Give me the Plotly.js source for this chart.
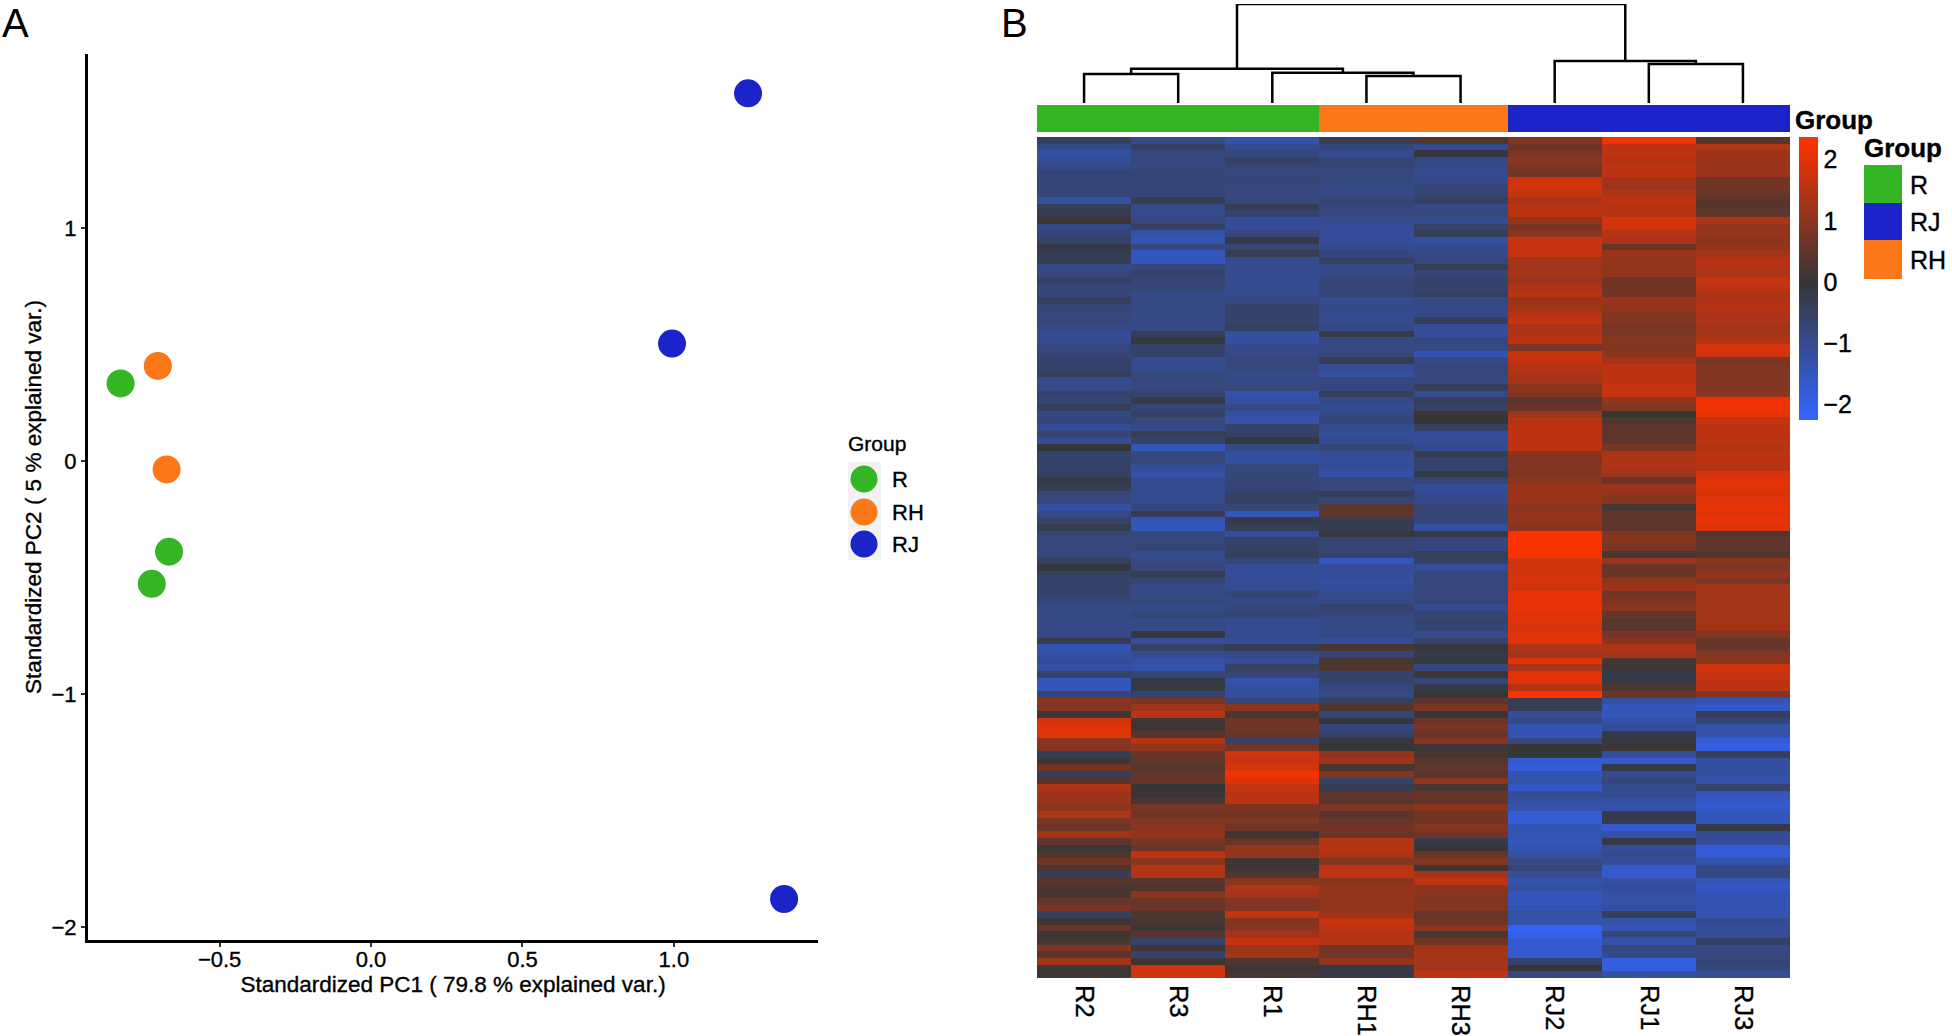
<!DOCTYPE html>
<html>
<head>
<meta charset="utf-8">
<script src="https://cdn.plot.ly/plotly-3.0.1.min.js"></script>
<style>
html,body{margin:0;padding:0;background:#fff}
svg text{stroke:#000;stroke-width:.35px}
.annotation[data-index="0"] text,.annotation[data-index="1"] text{stroke-width:0}
</style>
</head>
<body>
<div id="chart" style="width:1952px;height:1036px"></div>
<script>
// ---------- Panel A: PCA scores ----------
const groupR_pc1 = [-0.827, -0.667, -0.724];
const groupR_pc2 = [0.333, -0.389, -0.527];
const groupRH_pc1 = [-0.704, -0.675];
const groupRH_pc2 = [0.408, -0.036];
const groupRJ_pc1 = [0.994, 1.245, 1.364];
const groupRJ_pc2 = [0.504, 1.578, -1.880];

// ---------- Panel B: heatmap columns, top row first ----------
const samples = ['R2','R3','R1','RH1','RH3','RJ2','RJ1','RJ3'];
const sampleGroup = [0,0,0,1,1,2,2,2];
const R2 = [
-0.5,-0.9,-1.2,-1.1,-0.9,-0.7,-0.7,-0.7,-0.7,-1.2,-0.4,-0.3,0.1,-0.9,-0.7,-0.6,-0.2,-0.3,-0.4,-0.9,-0.8,
-0.5,-0.7,-0.7,-0.4,-0.7,-0.8,-0.8,-0.9,-1.1,-1.0,-0.8,-0.7,-0.6,-0.6,-0.4,-1.0,-0.9,-0.6,-0.7,-0.4,-0.9,
-0.7,-1.1,-0.7,-1.1,0.0,-0.6,-0.6,-0.6,-0.5,-0.2,-0.3,-0.8,-0.8,-1.2,-0.9,-0.6,-0.3,-0.7,-0.8,-0.8,-0.8,
-0.5,-0.1,-0.5,-0.6,-0.6,-0.6,-0.7,-0.9,-0.9,-0.9,-0.9,-0.9,-0.3,-1.4,-1.2,-1.1,-1.2,-0.6,-1.5,-1.5,-0.7,
1.0,0.9,0.1,1.8,2.0,2.0,1.0,0.9,-0.3,0.1,0.7,-0.3,0.4,1.4,1.2,1.2,1.0,1.4,0.8,0.7,1.3,
0.5,0.1,0.3,0.7,0.3,-0.4,0.4,0.2,0.2,0.6,0.8,-0.5,0.1,0.6,0.1,0.2,0.9,0.4,1.3,0.1,0.1];
const R3 = [
-1.0,-0.5,-0.8,-0.8,-0.8,-0.7,-0.7,-0.7,-0.7,-0.3,-0.9,-1.0,-0.8,-0.5,-1.3,-1.4,-0.8,-1.5,-1.5,-0.8,-0.6,
-0.7,-0.7,-0.9,-0.9,-0.9,-0.9,-0.9,-0.9,-0.4,-0.1,-0.6,-0.6,-1.0,-1.0,-0.8,-0.8,-0.8,-0.6,-0.2,-0.7,-0.5,
-0.8,-0.9,-0.4,-0.6,-1.5,-0.8,-0.8,-1.1,-1.3,-1.0,-1.0,-1.0,-1.0,-0.8,-0.3,-1.5,-1.5,-0.8,-0.8,-0.7,-1.0,
-0.9,-0.8,-0.3,-0.7,-0.9,-0.9,-0.8,-0.9,-0.7,-0.9,-0.9,-0.1,-1.1,-0.5,-1.0,-1.2,-1.3,-0.7,-0.2,-0.2,-0.6,
0.8,1.2,1.6,0.1,0.1,0.4,1.5,1.1,0.6,0.5,0.4,0.5,0.6,0.0,0.0,0.2,0.8,0.7,0.9,1.0,1.1,
0.8,0.6,1.6,1.0,1.5,1.5,0.4,0.3,1.0,0.6,0.6,0.3,0.2,0.1,0.4,-0.6,0.1,-0.6,0.1,1.8,1.8];
const R1 = [
-1.3,-1.0,-0.8,-0.5,-0.7,-0.8,-0.7,-0.8,-0.8,-0.8,-0.3,-0.6,-1.1,-1.1,-0.8,-0.2,-0.7,-0.3,-1.0,-1.0,-1.0,
-1.0,-1.0,-1.0,-0.8,-0.6,-0.6,-0.6,-0.5,-1.2,-1.2,-0.9,-0.9,-0.8,-0.8,-0.9,-0.9,-0.8,-1.3,-1.2,-0.9,-1.2,
-1.3,-0.6,-0.5,-0.1,-0.9,-1.2,-1.2,-0.8,-0.7,-0.7,-0.7,-0.5,-0.5,-0.7,-1.5,-0.2,-0.4,-1.1,-0.6,-0.5,-0.4,
-0.7,-1.1,-1.1,-1.1,-1.0,-0.7,-0.9,-0.8,-0.7,-1.0,-1.0,-1.0,-1.1,-0.3,-0.9,-1.1,-0.5,-0.7,-1.3,-1.2,-1.2,
-0.7,1.0,0.2,0.7,0.7,0.6,-0.6,0.7,1.8,1.7,1.9,2.2,2.0,1.7,1.5,1.6,0.8,0.7,0.9,0.7,0.1,
0.6,1.1,1.1,0.1,0.1,0.3,1.0,1.4,1.3,0.9,0.9,1.7,0.9,1.0,1.3,1.7,1.2,1.3,0.3,0.1,0.2];
const RH1 = [
-0.3,-0.8,-1.0,-0.7,-0.7,-0.8,-0.8,-0.9,-0.9,-0.7,-0.8,-0.8,-1.0,-1.1,-1.1,-1.1,-1.0,-0.8,-0.5,-0.9,-0.9,
-0.7,-0.7,-0.7,-1.0,-0.9,-1.0,-1.0,-0.9,-0.2,-0.9,-0.9,-0.8,-0.3,-1.1,-1.2,-0.8,-0.8,-0.4,-0.9,-1.0,-0.9,
-0.7,-1.0,-1.1,-1.0,-0.7,-1.1,-1.1,-1.1,-1.3,-0.8,-0.8,-0.4,-0.7,0.4,0.5,-0.3,-0.3,-0.1,-0.7,-0.7,-0.6,
-1.5,-1.1,-1.1,-1.2,-1.1,-1.0,-0.9,-0.6,-0.8,-0.9,-0.9,-0.9,-1.1,0.2,-0.7,0.2,0.3,-0.6,-0.6,-0.8,-0.9,
-0.4,0.3,-0.7,0.0,-0.8,-0.6,-0.1,0.0,1.1,1.3,0.2,0.9,-0.6,-0.3,0.5,0.4,0.8,0.4,0.6,0.7,0.6,
1.5,1.5,1.4,0.9,1.6,1.6,1.0,1.1,1.1,1.1,1.1,1.2,1.7,1.6,1.5,1.5,0.7,0.7,1.1,-0.2,-0.2];
const RH3 = [
0.3,-1.0,-0.1,-0.9,-0.9,-1.0,-0.9,-0.7,-0.7,-0.5,-0.9,-0.8,-1.0,-0.6,-0.4,-1.2,-1.0,-0.9,-0.8,-0.3,-0.7,
-0.6,-0.6,-0.5,-0.9,-0.9,-0.9,-0.4,-1.1,-1.1,-0.8,-0.9,-1.4,-0.9,-0.8,-0.8,-0.8,-0.4,-1.0,-0.4,-0.5,0.1,
0.0,-0.5,-1.1,-1.1,-1.0,-0.3,-0.6,-0.6,-0.2,-0.7,-1.1,-1.0,-0.9,-0.7,-0.7,-0.7,-1.2,-0.2,-0.8,-0.8,-0.4,
-0.5,-1.1,-0.8,-0.8,-0.8,-0.8,-0.7,-1.0,-0.7,-0.6,-0.7,-1.0,-0.6,-0.1,-0.2,-0.1,-0.8,0.1,-0.8,-0.2,0.0,
0.5,0.8,0.0,0.6,0.8,0.6,0.9,0.1,0.2,0.4,0.5,0.4,1.1,0.2,0.6,0.5,1.0,0.7,0.7,0.9,0.7,
-0.2,0.0,0.6,0.9,0.1,1.3,1.6,1.0,1.0,0.9,0.9,0.6,0.7,1.0,0.2,0.7,1.3,1.3,1.3,1.3,1.6];
const RJ2 = [
0.9,0.6,0.8,1.0,0.8,0.7,1.8,1.8,1.7,1.4,1.5,1.6,1.1,0.8,1.0,1.7,1.7,1.7,1.3,1.3,1.3,
1.2,1.4,1.5,1.2,1.3,1.5,1.7,1.4,1.4,1.6,0.8,1.7,1.7,1.5,1.4,1.3,1.0,0.9,0.4,0.6,1.2,
1.5,1.6,1.6,1.6,1.6,1.0,0.9,0.9,0.9,1.0,1.2,1.2,1.2,1.0,1.1,1.1,1.0,2.3,2.3,2.3,2.3,
1.8,1.8,1.8,1.9,1.8,2.1,2.1,2.1,2.0,2.0,1.9,2.0,2.0,1.4,1.3,2.0,1.4,2.0,2.0,1.5,2.3,
-0.3,-0.3,-1.1,-0.9,-1.4,-1.4,-0.8,0.0,-0.1,-1.7,-1.8,-1.4,-1.3,-1.6,-1.1,-1.2,-1.3,-1.8,-1.8,-1.4,-1.4,
-1.5,-1.4,-1.2,-0.9,-0.7,-1.1,-1.3,-1.2,-1.5,-1.5,-1.4,-1.2,-1.3,-2.1,-2.0,-1.7,-1.7,-1.7,-0.6,0.0,-0.8];
const RJ1 = [
2.2,1.6,1.6,1.5,1.6,1.6,1.3,1.2,1.4,1.6,1.5,1.5,1.9,1.8,1.5,1.4,0.6,1.2,1.1,1.1,1.1,
0.7,0.7,0.7,1.2,1.1,0.9,0.9,0.8,0.8,1.0,0.9,1.0,1.3,1.6,1.6,1.6,1.7,1.7,1.1,0.9,0.0,
0.3,0.5,0.5,0.5,0.8,1.4,1.4,1.4,1.2,0.6,1.2,1.1,0.9,0.2,0.5,0.5,0.5,0.9,0.9,0.8,0.2,
1.2,0.6,0.6,1.1,1.2,0.7,0.8,1.0,0.6,0.4,0.4,0.8,1.0,1.4,1.3,0.2,0.1,-0.2,-0.2,0.3,0.6,
-1.2,-1.5,-1.5,-1.3,-1.1,-0.2,-0.1,0.1,-1.1,-1.7,-0.2,-1.0,-0.8,-1.0,-1.0,-1.2,-1.3,-0.2,-0.3,-1.7,-1.3,
-0.2,-1.1,-1.0,-1.1,-1.7,-1.7,-1.2,-1.1,-1.2,-1.3,-1.2,-0.4,-1.3,-1.4,-0.8,-1.3,-0.8,-0.9,-1.9,-1.9,-1.2];
const RJ3 = [
0.4,1.5,1.2,1.2,1.2,1.2,0.7,0.7,0.6,0.4,0.4,0.5,1.4,1.1,1.1,1.0,1.1,1.3,1.5,1.5,1.4,
1.7,1.6,1.4,1.4,1.5,1.4,1.4,1.3,1.3,1.5,1.9,1.8,0.8,0.9,0.9,0.9,0.9,1.0,2.2,2.2,2.1,
1.7,1.6,1.6,1.6,1.5,1.6,1.6,1.5,1.9,2.0,2.0,1.9,2.0,2.1,2.0,2.1,2.0,0.3,0.5,0.5,0.3,
1.0,0.9,1.1,0.8,1.3,1.3,1.3,1.3,1.3,1.3,1.3,0.9,0.6,0.6,0.9,1.0,1.8,1.7,1.6,1.6,0.9,
-1.4,-1.6,-0.4,-0.7,-1.3,-1.3,-1.8,-1.9,-0.4,-1.2,-1.2,-1.2,-1.3,-0.6,-1.5,-1.6,-1.7,-1.5,-1.5,-0.2,-1.0,
-1.1,-1.8,-1.8,-1.3,-0.9,-0.8,-1.5,-1.6,-1.4,-1.4,-1.4,-1.4,-1.0,-1.1,-1.1,-0.5,-0.9,-0.8,-0.7,-0.8,-1.1];
const columns = [R2, R3, R1, RH1, RH3, RJ2, RJ1, RJ3];

// ---------- Dendrogram: merges of leaves (0-7) and earlier nodes (8+) ----------
const mergeLeft   = [0, 3, 2, 8, 6, 5, 11];
const mergeRight  = [1, 4, 9, 10, 7, 12, 13];
const mergeHeight = [29, 27, 30.3, 34.3, 39, 42, 99];

const zMin = -2.25, zMax = 2.37;
const GREEN = '#33b524', ORANGE = '#fb7718', BLUE = '#1b24c9';
const FONT = '"Liberation Sans", Arial, sans-serif';

const W = 1952, H = 1036;
const px = v => v / W;
const py = v => 1 - v / H;

// dendrogram segments
const nodeX = samples.map((_, i) => i), nodeH = samples.map(() => 0);
const dx = [], dy = [];
mergeLeft.forEach((l, i) => {
  const r = mergeRight[i], h = mergeHeight[i];
  dx.push(nodeX[l], nodeX[l], nodeX[r], nodeX[r], null);
  dy.push(nodeH[l], h, h, nodeH[r], null);
  nodeX.push((nodeX[l] + nodeX[r]) / 2);
  nodeH.push(h);
});

const rows = R2.map((_, i) => columns.map(c => c[i]));
const rowIdx = rows.map((_, i) => i);
const zeroFrac = (0 - zMin) / (zMax - zMin);

const mk = (name, x, y, color) => ({
  type: 'scatter', mode: 'markers', name, x, y, xaxis: 'x', yaxis: 'y',
  marker: {size: 28, color, line: {width: 0}}, showlegend: false, cliponaxis: false
});

const data = [
  mk('R', groupR_pc1, groupR_pc2, GREEN),
  mk('RH', groupRH_pc1, groupRH_pc2, ORANGE),
  mk('RJ', groupRJ_pc1, groupRJ_pc2, BLUE),
  {
    type: 'heatmap', x: samples, y: rowIdx, z: rows, xaxis: 'x2', yaxis: 'y2',
    zmin: zMin, zmax: zMax, zsmooth: false,
    colorscale: [[0, '#3366ff'], [zeroFrac, '#363636'], [1, '#ff3300']],
    colorbar: {
      x: px(1799), xanchor: 'left', xpad: 0, y: py(137), yanchor: 'top', ypad: 0,
      lenmode: 'pixels', len: 283, thickness: 19, thicknessmode: 'pixels',
      outlinewidth: 0, borderwidth: 0, ticks: '', tickvals: [-2, -1, 0, 1, 2],
      tickfont: {family: FONT, size: 25, color: '#000'}
    }
  },
  {
    type: 'heatmap', x: samples, y: ['Group'], z: [sampleGroup], xaxis: 'x3', yaxis: 'y3',
    zmin: 0, zmax: 2, showscale: false, hoverongaps: false, zsmooth: false,
    colorscale: [[0, GREEN], [0.333, GREEN], [0.333, ORANGE], [0.667, ORANGE], [0.667, BLUE], [1, BLUE]]
  },
  {
    type: 'scatter', mode: 'lines', x: dx, y: dy, xaxis: 'x4', yaxis: 'y4',
    line: {color: '#000', width: 2.5}, showlegend: false, connectgaps: false, hoverinfo: 'skip'
  }
];

const hidden = {visible: false, showgrid: false, zeroline: false, fixedrange: true};
const text = (t, x, y, size, bold, extra) => Object.assign({
  text: bold ? '<b>' + t + '</b>' : t, xref: 'paper', yref: 'paper',
  x: px(x), y: py(y), xanchor: 'left', yanchor: 'middle', showarrow: false,
  font: {family: FONT, size, color: '#000'}
}, extra || {});
const rect = (x0, y0, x1, y1, color, type) => ({
  type: type || 'rect', xref: 'paper', yref: 'paper',
  x0: px(x0), x1: px(x1), y0: py(y0), y1: py(y1),
  fillcolor: color, line: {width: 0}, layer: 'below'
});
const circle = (cx, cy, color) => Object.assign(rect(cx - 13.5, cy - 13.5, cx + 13.5, cy + 13.5, color, 'circle'), {layer: 'above'});

const layout = {
  width: W, height: H, margin: {l: 0, r: 0, t: 0, b: 0, pad: 0},
  paper_bgcolor: '#fff', plot_bgcolor: '#fff', showlegend: false,
  font: {family: FONT, color: '#000'},
  xaxis: {
    domain: [px(88), px(818)], range: [-0.9346, 1.476], anchor: 'y',
    showline: true, linecolor: '#000', linewidth: 3, showgrid: false, zeroline: false,
    ticks: 'outside', ticklen: 4, tickwidth: 1.5, tickcolor: '#333',
    tickvals: [-0.5, 0, 0.5, 1], ticktext: ['\u22120.5', '0.0', '0.5', '1.0'], ticklabelstandoff: -6,
    tickfont: {family: FONT, size: 22, color: '#000'},
    title: {text: 'Standardized PC1 ( 79.8 % explained var.)', font: {family: FONT, size: 22.5, color: '#000'}, standoff: 0}
  },
  yaxis: {
    domain: [py(940), py(54)], range: [-2.056, 1.747], anchor: 'x',
    showline: true, linecolor: '#000', linewidth: 3, showgrid: false, zeroline: false,
    ticks: 'outside', ticklen: 4, tickwidth: 1.5, tickcolor: '#333',
    tickvals: [-2, -1, 0, 1], ticktext: ['\u22122', '\u22121', '0', '1'],
    tickfont: {family: FONT, size: 22, color: '#000'},
    title: {text: 'Standardized PC2 ( 5 % explained var.)', font: {family: FONT, size: 22.5, color: '#000'}, standoff: 4}
  },
  xaxis2: {
    domain: [px(1037), px(1790)], anchor: 'y2', type: 'category', showgrid: false, zeroline: false,
    ticks: '', tickangle: 90, ticklabelstandoff: 6, tickfont: {family: FONT, size: 25.5, color: '#000'}
  },
  yaxis2: {
    domain: [py(978), py(137)], anchor: 'x2', range: [rows.length - 0.5, -0.5],
    showticklabels: false, ticks: '', showgrid: false, zeroline: false
  },
  xaxis3: {domain: [px(1037), px(1790)], anchor: 'y3', type: 'category', visible: false},
  yaxis3: {domain: [py(132), py(105)], anchor: 'x3', type: 'category', visible: false},
  xaxis4: Object.assign({domain: [px(1037), px(1790)], anchor: 'y4', range: [-0.5, 7.5]}, hidden),
  yaxis4: Object.assign({domain: [py(103), py(4)], anchor: 'x4', range: [0, 99]}, hidden),
  shapes: [
    rect(848, 462, 881, 560, '#f2f2f2'),
    circle(864, 479, GREEN), circle(864, 512, ORANGE), circle(864, 544, BLUE),
    rect(1864, 165, 1902, 203, GREEN), rect(1864, 203, 1902, 240, BLUE), rect(1864, 240, 1902, 279, ORANGE)
  ],
  annotations: [
    text('A', 0, 23, 40), text('B', 999, 23, 40),
    text('Group', 846, 443, 21),
    text('R', 890, 479, 22), text('RH', 890, 512, 22), text('RJ', 890, 544, 22),
    text('Group', 1793, 120, 26, true),
    text('Group', 1862, 148, 26, true),
    text('R', 1908, 185, 25), text('RJ', 1908, 222, 25), text('RH', 1908, 260, 25)
  ]
};

Plotly.newPlot('chart', data, layout, {displayModeBar: false, responsive: false});
</script>
</body>
</html>
